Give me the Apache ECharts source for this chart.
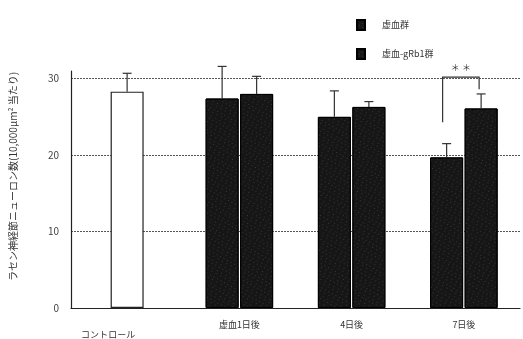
<!DOCTYPE html>
<html>
<head>
<meta charset="utf-8">
<script src="https://cdn.jsdelivr.net/npm/echarts@6/dist/echarts.min.js"></script>
<style>
html, body { margin: 0; padding: 0; background: #fff; }
#chart { width: 523px; height: 339px; }
</style>
</head>
<body>
<div id="chart"></div>
<script>
// values
var categories = ['コントロール', '虚血1日後', '4日後', '7日後'];
var controlMean = [28.3, null, null, null];
var controlErrTop = [30.7, null, null, null];
var ischemiaMean = [null, 27.4, 25.0, 19.7];
var ischemiaErrTop = [null, 31.6, 28.4, 21.5];
var rb1Mean = [null, 28.0, 26.3, 26.1];
var rb1ErrTop = [null, 30.3, 27.0, 28.0];
var yTicks = [0, 10, 20, 30];
// significance bracket on 7日後: category, left foot, top, right foot, star level
var bracket = [3, 24.3, 30.2, 28.6, 30.9];

var BW = 33, GAP = 1.5;
var font = '"Noto Sans CJK JP", sans-serif';

function errData(means, tops) {
    var out = [];
    for (var i = 0; i < means.length; i++) {
        if (means[i] != null) out.push([i, means[i], tops[i]]);
    }
    return out;
}

function errSeries(data, offset) {
    return {
        type: 'custom',
        z: 5,
        data: data,
        renderItem: function (params, api) {
            var base = api.coord([api.value(0), api.value(1)]);
            var top = api.coord([api.value(0), api.value(2)]);
            var x = base[0] + offset;
            var st = { stroke: '#333', lineWidth: 1.2 };
            return {
                type: 'group',
                children: [
                    { type: 'line', shape: { x1: x, y1: base[1], x2: x, y2: top[1] }, style: st },
                    { type: 'line', shape: { x1: x - 4.5, y1: top[1], x2: x + 4.5, y2: top[1] }, style: st }
                ]
            };
        }
    };
}

var darkStyle = {
    color: '#161616',
    borderColor: '#000',
    borderWidth: 1,
    decal: {
        symbol: 'circle',
        symbolSize: 0.9,
        color: 'rgba(255,255,255,0.3)',
        dashArrayX: [[1, 3], [1, 4], [2, 3]],
        dashArrayY: [1, 2, 1, 3],
        rotation: 0.5
    }
};

var chart = echarts.init(document.getElementById('chart'));
chart.setOption({
    animation: false,
    textStyle: { fontFamily: font },
    grid: { left: 71, right: 3, top: 71, bottom: 28 },
    legend: {
        data: ['虚血群', '虚血-gRb1群'],
        orient: 'vertical',
        left: 351,
        top: 14,
        itemWidth: 8,
        itemHeight: 10,
        itemGap: 17,
        icon: 'rect',
        textStyle: { fontSize: 9, color: '#333', fontFamily: font, padding: [0, 0, 0, 12] }
    },
    graphic: [{
        type: 'text',
        x: 13,
        y: 281,
        rotation: Math.PI / 2,
        style: {
            text: 'ラセン神経節ニューロン数(10,000μm² 当たり)',
            fontSize: 10,
            fill: '#333',
            fontFamily: font,
            textAlign: 'left',
            textVerticalAlign: 'middle'
        }
    }],
    xAxis: [{
        type: 'category',
        data: categories,
        axisLine: { lineStyle: { color: '#222', width: 1.2 } },
        axisTick: { show: false },
        axisLabel: {
            fontSize: 9,
            color: '#333',
            margin: 12,
            formatter: function (v, i) { return i === 0 ? '{c|' + v + '}' : v; },
            rich: { c: { fontSize: 9, color: '#333', padding: [10, 38, 0, 0], fontFamily: font } }
        }
    }, {
        type: 'category',
        data: categories,
        show: false
    }],
    yAxis: {
        type: 'value',
        min: 0,
        max: 31,
        interval: 10,
        axisLine: { show: true, lineStyle: { color: '#222', width: 1.2 } },
        axisTick: { show: false },
        axisLabel: {
            fontSize: 10,
            color: '#444',
            margin: 12,
            showMaxLabel: false,
            formatter: function (v) { return yTicks.indexOf(v) >= 0 ? v : ''; }
        },
        splitLine: {
            showMaxLine: false,
            lineStyle: { color: '#555', type: [2, 1], width: 1 }
        }
    },
    series: [
        {
            name: 'コントロール',
            type: 'bar',
            xAxisIndex: 1,
            barWidth: BW,
            data: controlMean,
            itemStyle: { color: '#fff', borderColor: '#222', borderWidth: 1.2 }
        },
        {
            name: '虚血群',
            type: 'bar',
            barWidth: BW,
            barGap: (GAP / BW * 100) + '%',
            data: ischemiaMean,
            itemStyle: darkStyle
        },
        {
            name: '虚血-gRb1群',
            type: 'bar',
            barWidth: BW,
            data: rb1Mean,
            itemStyle: darkStyle
        },
        errSeries(errData(controlMean, controlErrTop), 0),
        errSeries(errData(ischemiaMean, ischemiaErrTop), -(BW + GAP) / 2),
        errSeries(errData(rb1Mean, rb1ErrTop), (BW + GAP) / 2),
        {
            type: 'custom',
            z: 6,
            data: [bracket],
            renderItem: function (params, api) {
                var c = api.value(0);
                var half = (BW + GAP) / 2;
                var l = api.coord([c, api.value(1)]);
                var t = api.coord([c, api.value(2)]);
                var r = api.coord([c, api.value(3)]);
                var s = api.coord([c, api.value(4)]);
                var xl = l[0] - half - 4, xr = r[0] + half - 2;
                var st = { stroke: '#333', lineWidth: 1.2, fill: null };
                return {
                    type: 'group',
                    children: [
                        {
                            type: 'polyline',
                            shape: { points: [[xl, l[1]], [xl, t[1]], [xr, t[1]], [xr, r[1]]] },
                            style: st
                        },
                        {
                            type: 'text',
                            x: (xl + xr) / 2,
                            y: s[1],
                            style: { text: '＊ ＊', fontSize: 9, fill: '#333', align: 'center', verticalAlign: 'bottom', fontFamily: font }
                        }
                    ]
                };
            }
        }
    ]
});
</script>
</body>
</html>
